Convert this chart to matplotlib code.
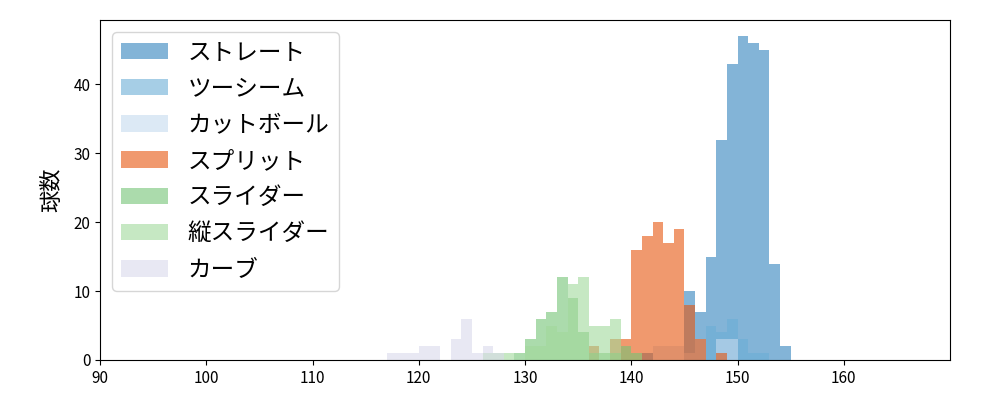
import matplotlib
matplotlib.use("Agg")
import matplotlib.pyplot as plt
import numpy as np

plt.rcParams['font.family'] = ['Noto Sans CJK JP', 'DejaVu Sans']

# pitch types, in drawing order
pitch_names = ['ストレート', 'ツーシーム', 'カットボール', 'スプリット', 'スライダー', '縦スライダー', 'カーブ']
pitch_colors = ['#3182bd', '#6baed6', '#c6dbef', '#e6550d', '#74c476', '#a1d99b', '#dadaeb']

# bin left edge (km/h) and count per bin
straight_kmh = [141, 145, 146, 147, 148, 149, 150, 151, 152, 153, 154]
straight_cnt = [1, 10, 7, 15, 32, 43, 47, 46, 45, 14, 2]

twoseam_kmh = [147, 148, 149, 150, 151, 152]
twoseam_cnt = [5, 4, 6, 3, 1, 1]

cutter_kmh = [142, 143, 144, 145, 146, 148, 149]
cutter_cnt = [2, 2, 2, 1, 3, 3, 3]

split_kmh = [136, 138, 139, 140, 141, 142, 143, 144, 145, 146, 148]
split_cnt = [2, 3, 3, 16, 18, 20, 17, 19, 8, 3, 1]

slider_kmh = [129, 130, 131, 132, 133, 134, 135, 136, 137, 138, 139, 140]
slider_cnt = [1, 3, 6, 7, 12, 9, 4, 1, 1, 1, 2, 1]

vslider_kmh = [126, 127, 128, 130, 131, 132, 133, 134, 135, 136, 137, 138]
vslider_cnt = [1, 1, 1, 2, 2, 5, 4, 11, 12, 5, 5, 6]

curve_kmh = [117, 118, 119, 120, 121, 123, 124, 125, 126, 127]
curve_cnt = [1, 1, 1, 2, 2, 3, 6, 1, 2, 1]

series = [
    (straight_kmh, straight_cnt),
    (twoseam_kmh, twoseam_cnt),
    (cutter_kmh, cutter_cnt),
    (split_kmh, split_cnt),
    (slider_kmh, slider_cnt),
    (vslider_kmh, vslider_cnt),
    (curve_kmh, curve_cnt),
]

fig, ax = plt.subplots(figsize=(10, 4), dpi=100)
fig.subplots_adjust(left=0.1, right=0.95, bottom=0.1, top=0.95)

edges = np.arange(90, 171, 1)
for (kmh, cnt), name, color in zip(series, pitch_names, pitch_colors):
    centers = np.array(kmh) + 0.5
    ax.hist(centers, bins=edges, weights=cnt, color=color, alpha=0.6, label=name)

ax.set_xlim(90, 170)
ax.set_xticks(np.arange(90, 161, 10))
ax.set_ylabel('球数', fontsize=16, labelpad=7)
ax.tick_params(labelsize=11)
ax.legend(loc='upper left', fontsize=17, labelspacing=0.56)

fig.savefig('out.png')
